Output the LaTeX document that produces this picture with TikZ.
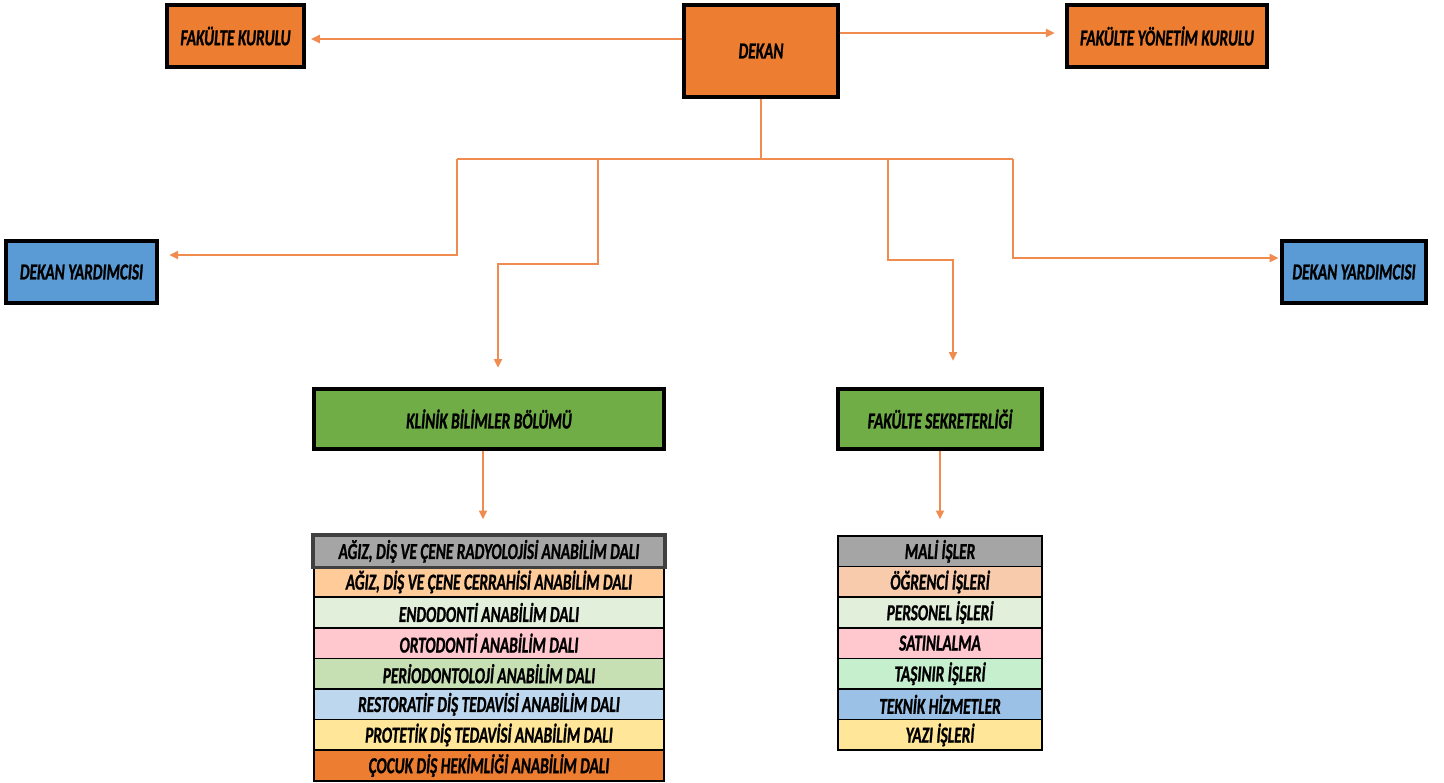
\documentclass[tikz,border=0pt]{standalone}
\usepackage{fontspec}
\setmainfont{Carlito}[FakeStretch=0.67,BoldItalicFeatures={FakeBold=1}]
\usetikzlibrary{arrows.meta}
\definecolor{boxorange}{RGB}{237,125,49}
\definecolor{boxblue}{RGB}{91,155,213}
\definecolor{boxgreen}{RGB}{112,173,71}
\definecolor{lineorange}{RGB}{240,140,80}
\definecolor{rowgray}{RGB}{165,165,165}
\definecolor{rowpeach}{RGB}{255,204,153}
\definecolor{rowsalmon}{RGB}{248,203,173}
\definecolor{rowmint}{RGB}{226,239,218}
\definecolor{rowpink}{RGB}{255,199,206}
\definecolor{rowgreen}{RGB}{198,224,180}
\definecolor{rowlime}{RGB}{198,239,206}
\definecolor{rowblue}{RGB}{189,215,238}
\definecolor{rowsky}{RGB}{155,194,230}
\definecolor{rowyellow}{RGB}{255,230,153}
\begin{document}
\begin{tikzpicture}[x=0.02cm,y=-0.02cm,
		box/.style={draw=black,line width=2pt,inner sep=0pt,font=\bfseries\itshape\fontsize{13}{15}\selectfont},
		row/.style={draw=black,line width=1pt,inner sep=0pt,minimum height=0.612cm,font=\bfseries\itshape\fontsize{13}{15}\selectfont},
		link/.style={draw=lineorange,line width=1.2pt},
		arrow/.style={link,-{Triangle[length=5pt,width=4.5pt]}}]
			\useasboundingbox (0,0) rectangle (1444,782);
			% top row
			\node[box,fill=boxorange,minimum width=2.74cm,minimum height=1.24cm] (fk) at (235.5,36) {FAKÜLTE KURULU};
			\node[box,fill=boxorange,minimum width=3.08cm,minimum height=1.84cm] (dekan) at (761,51) {DEKAN};
			\node[box,fill=boxorange,minimum width=4cm,minimum height=1.24cm] (fyk) at (1167,36) {FAKÜLTE YÖNETİM KURULU};
			% deputies
			\node[box,fill=boxblue,minimum width=3.02cm,minimum height=1.24cm] (dyl) at (81.5,272) {DEKAN YARDIMCISI};
			\node[box,fill=boxblue,minimum width=2.88cm,minimum height=1.24cm] (dyr) at (1354,272) {DEKAN YARDIMCISI};
			% units
			\node[box,fill=boxgreen,minimum width=7cm,minimum height=1.2cm] (kbb) at (489,419) {KLİNİK BİLİMLER BÖLÜMÜ};
			\node[box,fill=boxgreen,minimum width=4.08cm,minimum height=1.2cm] (fs) at (940,419) {FAKÜLTE SEKRETERLİĞİ};
			% lists
			\foreach \i/\c/\t in {1/rowgray/{AĞIZ, DİŞ VE ÇENE RADYOLOJİSİ ANABİLİM DALI},2/rowpeach/{AĞIZ, DİŞ VE ÇENE CERRAHİSİ ANABİLİM DALI},3/rowmint/ENDODONTİ ANABİLİM DALI,4/rowpink/ORTODONTİ ANABİLİM DALI,5/rowgreen/PERİODONTOLOJİ ANABİLİM DALI,6/rowblue/RESTORATİF DİŞ TEDAVİSİ ANABİLİM DALI,7/rowyellow/PROTETİK DİŞ TEDAVİSİ ANABİLİM DALI,8/boxorange/ÇOCUK DİŞ HEKİMLİĞİ ANABİLİM DALI}
			\node[row,fill=\c,minimum width=7cm] (l\i) at (489,{551.3+30.6*(\i-1)}) {\t};
			\draw[draw=black!75,line width=2pt] (l1.north west) rectangle (l1.south east);
			\foreach \i/\c/\t in {1/rowgray/MALİ İŞLER,2/rowsalmon/ÖĞRENCİ İŞLERİ,3/rowmint/PERSONEL İŞLERİ,4/rowpink/SATINLALMA,5/rowlime/TAŞINIR İŞLERİ,6/rowsky/TEKNİK HİZMETLER,7/rowyellow/YAZI İŞLERİ}
			\node[row,fill=\c,minimum width=4.08cm] (r\i) at (940,{551.3+30.6*(\i-1)}) {\t};
			% connectors
			\coordinate (hub) at (761,159);
			\coordinate (busl) at (457,159);
			\coordinate (busr) at (1013,159);
			\coordinate (kl) at (598,159);
			\coordinate (kr) at (888,159);
			\draw[arrow,shorten >=3pt] ([yshift=-.06cm]dekan.west |- fk.east) -- ([yshift=-.06cm]fk.east);
			\draw[arrow,shorten >=6pt] ([yshift=.06cm]dekan.east |- fyk.west) -- ([yshift=.06cm]fyk.west);
			\draw[link] (dekan.south) -- (hub);
			\draw[link] (busl) -- (busr);
			\draw[arrow,shorten >=6pt] (busl) |- ([yshift=.34cm]dyl.east);
			\draw[arrow,shorten >=1pt] (busr) |- ([yshift=.28cm]dyr.west);
			\draw[arrow,shorten >=11pt] (kl) -- ++(0,105) -| ([xshift=.18cm]kbb.north);
			\draw[arrow,shorten >=15pt] (kr) -- ++(0,101) -| ([xshift=.26cm]fs.north);
			\draw[arrow,shorten >=9pt] ([xshift=-.12cm]kbb.south) -- ([xshift=-.12cm]l1.north);
			\draw[arrow,shorten >=9pt] (fs.south) -- (r1.north);
		\end{tikzpicture}
\end{document}
